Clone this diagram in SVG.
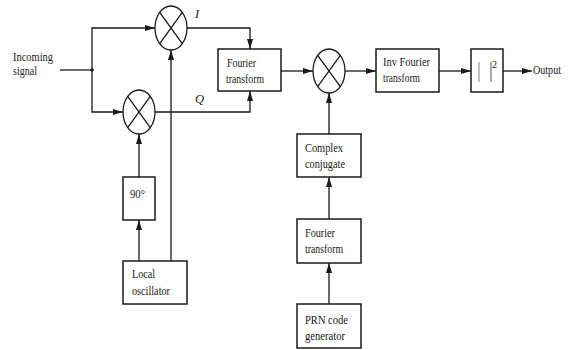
<svg xmlns="http://www.w3.org/2000/svg" width="568" height="350" viewBox="0 0 568 350">
<defs>
<marker id="ah" viewBox="0 0 10 6" refX="10" refY="3" markerWidth="10" markerHeight="6" markerUnits="userSpaceOnUse" orient="auto">
<path d="M0,0 L10,3 L0,6 Z" fill="#1a1a1a"/>
</marker>
<style>
.ln{stroke:#1a1a1a;stroke-width:1.3;fill:none}
.ar{stroke:#1a1a1a;stroke-width:1.3;fill:none;marker-end:url(#ah)}
.bx{stroke:#1a1a1a;stroke-width:1.5;fill:#fff}
.mx{stroke:#1a1a1a;stroke-width:1.3;fill:#fff}
.t{font-family:"Liberation Serif","Times New Roman",serif;font-size:12.5px;fill:#1a1a1a}
.it{font-family:"Liberation Serif","Times New Roman",serif;font-size:12.5px;font-style:italic;fill:#1a1a1a}
</style>
</defs>
<rect width="568" height="350" fill="#fff"/>
<g id="connectors">
<line class="ln" x1="60" y1="70" x2="92" y2="70"/>
<circle cx="92" cy="70" r="1.8" fill="#1a1a1a"/>
<polyline class="ar" points="92,70 92,28 155,28"/>
<polyline class="ar" points="92,70 92,112 123,112"/>
<line class="ar" x1="171" y1="261" x2="171" y2="50"/>
<line class="ar" x1="139" y1="261" x2="139" y2="220"/>
<line class="ar" x1="139" y1="177" x2="139" y2="134"/>
<polyline class="ar" points="187,28 250,28 250,49"/>
<polyline class="ar" points="155,112 250,112 250,91"/>
<line class="ar" x1="281" y1="71" x2="313" y2="71"/>
<line class="ar" x1="345" y1="71" x2="376" y2="71"/>
<line class="ar" x1="439" y1="71" x2="471" y2="71"/>
<line class="ar" x1="503" y1="71" x2="532" y2="71"/>
<line class="ar" x1="329" y1="134" x2="329" y2="93"/>
<line class="ar" x1="329" y1="219" x2="329" y2="177"/>
<line class="ar" x1="329" y1="304" x2="329" y2="263"/>
</g>
<g id="input-label">
<text class="t" x="13" y="61" textLength="40" lengthAdjust="spacingAndGlyphs">Incoming</text>
<text class="t" x="13" y="75" textLength="24" lengthAdjust="spacingAndGlyphs">signal</text>
</g>
<g id="mixer-i">
<ellipse class="mx" cx="171" cy="28" rx="16" ry="22"/>
<line class="ln" x1="159.7" y1="12.4" x2="182.3" y2="43.6"/>
<line class="ln" x1="182.3" y1="12.4" x2="159.7" y2="43.6"/>
</g>
<g id="mixer-q">
<ellipse class="mx" cx="139" cy="112" rx="16" ry="22"/>
<line class="ln" x1="127.7" y1="96.4" x2="150.3" y2="127.6"/>
<line class="ln" x1="150.3" y1="96.4" x2="127.7" y2="127.6"/>
</g>
<g id="label-i"><text class="it" x="195" y="18">I</text></g>
<g id="label-q"><text class="it" x="195" y="103">Q</text></g>
<g id="phase90">
<rect class="bx" x="123" y="177" width="32" height="43"/>
<text class="t" x="130" y="198" textLength="15" lengthAdjust="spacingAndGlyphs">90°</text>
</g>
<g id="local-oscillator">
<rect class="bx" x="123" y="261" width="64" height="43"/>
<text class="t" x="132" y="278" textLength="23" lengthAdjust="spacingAndGlyphs">Local</text>
<text class="t" x="132" y="295" textLength="38" lengthAdjust="spacingAndGlyphs">oscillator</text>
</g>
<g id="fourier1">
<rect class="bx" x="218" y="49" width="63" height="42"/>
<text class="t" x="227" y="67" textLength="29" lengthAdjust="spacingAndGlyphs">Fourier</text>
<text class="t" x="226" y="83" textLength="38" lengthAdjust="spacingAndGlyphs">transform</text>
</g>
<g id="mixer-main">
<ellipse class="mx" cx="329" cy="71" rx="16" ry="22"/>
<line class="ln" x1="317.7" y1="55.4" x2="340.3" y2="86.6"/>
<line class="ln" x1="340.3" y1="55.4" x2="317.7" y2="86.6"/>
</g>
<g id="inv-fourier">
<rect class="bx" x="376" y="49" width="63" height="43"/>
<text class="t" x="383" y="66" textLength="47" lengthAdjust="spacingAndGlyphs">Inv Fourier</text>
<text class="t" x="383" y="82" textLength="37" lengthAdjust="spacingAndGlyphs">transform</text>
</g>
<g id="magsq">
<rect class="bx" x="471" y="49" width="32" height="43"/>
<line x1="479" y1="62" x2="479" y2="82" stroke="#888" stroke-width="1"/>
<line x1="491" y1="62" x2="491" y2="82" stroke="#555" stroke-width="1"/>
<text class="t" x="492" y="68" style="font-size:10px">2</text>
</g>
<g id="output-label">
<text class="t" x="533" y="74" textLength="28" lengthAdjust="spacingAndGlyphs">Output</text>
</g>
<g id="complex-conjugate">
<rect class="bx" x="297" y="134" width="64" height="43"/>
<text class="t" x="305" y="152" textLength="38" lengthAdjust="spacingAndGlyphs">Complex</text>
<text class="t" x="305" y="168" textLength="40" lengthAdjust="spacingAndGlyphs">conjugate</text>
</g>
<g id="fourier2">
<rect class="bx" x="297" y="219" width="64" height="44"/>
<text class="t" x="305" y="237" textLength="30" lengthAdjust="spacingAndGlyphs">Fourier</text>
<text class="t" x="305" y="253" textLength="38" lengthAdjust="spacingAndGlyphs">transform</text>
</g>
<g id="prn">
<rect class="bx" x="297" y="304" width="64" height="44"/>
<text class="t" x="305" y="324" textLength="43" lengthAdjust="spacingAndGlyphs">PRN code</text>
<text class="t" x="305" y="340" textLength="40" lengthAdjust="spacingAndGlyphs">generator</text>
</g>
</svg>
